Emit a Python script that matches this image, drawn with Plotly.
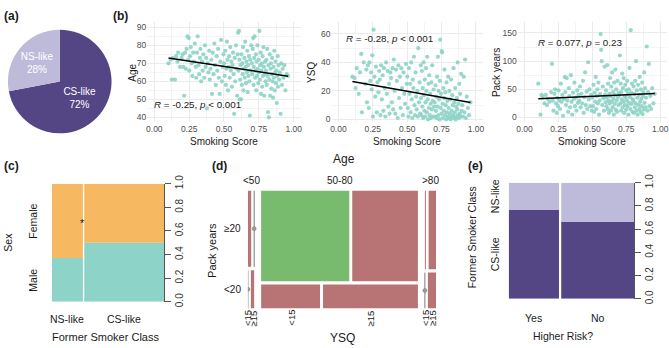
import plotly.graph_objects as go

W, H = 669, 348
FONT = "Liberation Sans, Arial, sans-serif"


def fx(px):
    return px / W


def fy(py):
    return 1 - py / H


# ---------------- DATA ----------------
# (a) pie
pie_labels = ["CS-like", "NS-like"]
pie_counts = [180, 70]

# (b) scatter: smoking score vs age / YSQ / pack years
smoking_score = [
    0.102, 0.118, 0.125, 0.133, 0.148, 0.157, 0.166, 0.171, 0.184, 0.196,
    0.203, 0.208, 0.214, 0.221, 0.226, 0.232, 0.238, 0.242, 0.247, 0.251, 0.256, 0.262, 0.268, 0.273, 0.279, 0.284, 0.291, 0.297,
    0.301, 0.306, 0.311, 0.316, 0.322, 0.327, 0.331, 0.336, 0.342, 0.347, 0.352, 0.358, 0.363, 0.368, 0.372, 0.378, 0.383, 0.389, 0.394, 0.398,
    0.403, 0.409, 0.414, 0.419, 0.425, 0.431, 0.436, 0.441, 0.447, 0.452, 0.458, 0.463, 0.469, 0.474, 0.479, 0.485, 0.491, 0.496,
    0.501, 0.505, 0.509, 0.513, 0.517, 0.521, 0.525, 0.529, 0.533, 0.537, 0.541, 0.545, 0.549, 0.553, 0.557, 0.561, 0.565, 0.569, 0.573, 0.577, 0.581, 0.586, 0.590, 0.594, 0.598,
    0.601, 0.604, 0.607, 0.610, 0.613, 0.616, 0.619, 0.622, 0.625, 0.628, 0.631, 0.634, 0.637, 0.640, 0.643, 0.646, 0.649, 0.652, 0.655, 0.658, 0.661, 0.664, 0.667, 0.670, 0.673, 0.676, 0.679, 0.682, 0.685, 0.688, 0.692, 0.696,
    0.700, 0.703, 0.706, 0.709, 0.712, 0.714, 0.717, 0.720, 0.723, 0.726, 0.729, 0.731, 0.734, 0.737, 0.740, 0.743, 0.746, 0.749, 0.751, 0.754, 0.757, 0.760, 0.763, 0.766, 0.769, 0.771, 0.774, 0.777, 0.780, 0.783, 0.786, 0.789, 0.792, 0.795, 0.798,
    0.801, 0.804, 0.807, 0.810, 0.813, 0.816, 0.819, 0.822, 0.825, 0.828, 0.831, 0.834, 0.837, 0.840, 0.843, 0.846, 0.849, 0.852, 0.855, 0.858, 0.861, 0.864, 0.867, 0.870, 0.873, 0.876, 0.879, 0.882, 0.885, 0.888, 0.892, 0.896,
    0.901, 0.906, 0.911, 0.916, 0.921, 0.927, 0.933, 0.941, 0.950, 0.960,
]
age = [
    70, 72, 61, 73, 61, 74, 71, 76, 68, 73,
    75, 68, 52, 76, 67, 78, 85, 72, 84, 66, 74, 79, 70, 63, 76, 71, 81, 68,
    62, 76, 85, 69, 64, 73, 78, 60, 71, 66, 75, 62, 80, 68, 73, 45, 70, 65, 77, 61,
    67, 72, 53, 76, 64, 81, 69, 58, 74, 66, 78, 62, 53, 71, 83, 60, 68, 75,
    70, 63, 77, 58, 67, 82, 72, 55, 68, 74, 62, 79, 66, 71, 57, 69, 76, 64, 42, 73, 60, 80, 67, 52, 75,
    87, 66, 88, 72, 50, 61, 69, 50, 75, 58, 70, 64, 79, 55, 67, 73, 62, 82, 68, 59, 71, 65, 77, 54, 69, 63, 74, 60, 41, 72, 66, 80,
    70, 64, 78, 84, 58, 68, 73, 85, 62, 66, 75, 55, 71, 63, 80, 67, 59, 72, 65, 88, 61, 69, 76, 53, 66, 70, 57, 74, 63, 79, 68, 52, 64, 71, 60,
    66, 72, 58, 78, 63, 43, 69, 40, 61, 75, 52, 67, 70, 56, 64, 73, 60, 51, 68, 62, 77, 55, 65, 71, 59, 66, 48, 63, 74, 57, 69, 61,
    65, 42, 70, 58, 67, 62, 69, 55, 64, 63,
]
ysq = [
    30, 29, 22, 36, 18, 33, 46, 5, 40, 25,
    35, 12, 38, 8, 40, 27, 33, 21, 45, 2, 63, 30, 16, 37, 5, 26, 19, 34,
    28, 3, 38, 14, 31, 6, 36, 22, 2, 40, 18, 34, 9, 25, 4, 33, 29, 12, 36, 7,
    42, 20, 4, 35, 27, 1, 38, 15, 30, 8, 36, 22, 3, 33, 18, 11, 39, 25,
    30, 8, 2, 36, 18, 25, 5, 40, 14, 1, 28, 22, 44, 10, 3, 33, 16, 7, 20, 2, 50, 12, 26, 4, 38,
    15, 3, 34, 9, 22, 1, 40, 17, 6, 28, 2, 12, 36, 20, 5, 44, 14, 0, 25, 8, 31, 3, 18, 11, 1, 26, 7, 38, 13, 2, 21, 9,
    12, 2, 24, 6, 16, 1, 30, 9, 44, 3, 20, 14, 0, 27, 56, 8, 18, 4, 48, 47, 11, 1, 22, 6, 15, 35, 3, 19, 10, 0, 26, 5, 13, 2, 30,
    8, 1, 20, 4, 14, 0, 28, 6, 2, 17, 10, 3, 36, 1, 12, 5, 22, 0, 9, 2, 15, 7, 40, 3, 11, 1, 25, 4, 18, 2, 32, 6,
    10, 2, 30, 5, 42, 1, 16, 8, 3, 12,
]
pack_years = [
    60, 5, 40, 38, 25, 40, 22, 33, 28, 45,
    95, 30, 12, 42, 50, 25, 8, 35, 20, 48, 30, 15, 60, 28, 40, 3, 33, 72,
    45, 22, 70, 30, 10, 52, 38, 18, 75, 28, 5, 44, 33, 62, 20, 35, 12, 48, 26, 40,
    30, 55, 18, 42, 25, 65, 8, 36, 80, 22, 46, 15, 98, 32, 50, 20, 40, 12,
    35, 20, 58, 10, 44, 28, 72, 15, 38, 50, 25, 62, 5, 30, 42, 148, 120, 100, 22, 55, 34, 12, 90, 40, 27,
    48, 20, 35, 93, 15, 60, 30, 8, 42, 25, 70, 38, 12, 55, 28, 80, 18, 45, 33, 5, 62, 24, 40, 85, 14, 50, 30, 10, 65, 36, 22, 44,
    40, 110, 25, 60, 12, 45, 32, 78, 18, 52, 28, 70, 8, 38, 22, 58, 35, 14, 48, 30, 65, 20, 42, 5, 50, 26, 88, 36, 15, 155, 44, 24, 60, 10, 32,
    30, 55, 8, 42, 18, 65, 25, 100, 12, 48, 35, 5, 58, 22, 40, 15, 72, 28, 10, 50, 33, 20, 62, 6, 38, 45, 14, 80, 26, 52, 18, 35,
    126, 12, 45, 95, 20, 38, 15, 52, 25, 42,
]
# linear fits (intercept, slope) and correlation labels
age_fit = [74.2, -11.8]
ysq_fit = [28.4, -17.2]
pack_fit = [32.1, 10.9]
cor_labels = [
    "<i>R</i> = -0.25, <i>p</i> &lt; 0.001",
    "<i>R</i> = -0.28, <i>p</i> &lt; 0.001",
    "<i>R</i> = 0.077, <i>p</i> = 0.23",
]

# (c) spineplot: former smoker class x sex
c_classes = ["NS-like", "CS-like"]
c_male = [26, 90]
c_female = [44, 90]

# (d) mosaic: age x pack years x YSQ   counts[age][pack][ysq]
d_age = ["<50", "50-80", ">80"]
d_pack = ["≥20", "<20"]
d_ysq = ["<15", "≥15"]
d_counts = [
    [[6, 0], [0, 3]],
    [[102, 76], [18, 29]],
    [[1, 10], [0, 5]],
]
d_highlight = (1, 0, 0)

# (e) spineplot: higher risk x former smoker class
e_groups = ["Yes", "No"]
e_cs = [78, 98]
e_ns = [24, 50]

# ---------------- STYLE ----------------
DARK = "#544585"
LIGHT = "#bebada"
TEAL = "#8dd3c7"
ORANGE = "#f6b961"
GREEN = "#78bb6e"
RED = "#b87474"
GRID = "#ebebeb"
GRID_MINOR = "#f4f4f4"

fig = go.Figure()
annotations = []


def ann(text, px, py, size=10, angle=0, xanchor="center", color="#1a1a1a", bold=False):
    if bold:
        text = "<b>" + text + "</b>"
    annotations.append(dict(text=text, x=fx(px), y=fy(py), xref="paper", yref="paper",
                            showarrow=False, textangle=angle, xanchor=xanchor, yanchor="middle",
                            font=dict(size=size, color=color, family=FONT)))


# ---------------- (a) pie ----------------
pie_color_map = {"CS-like": DARK, "NS-like": LIGHT}
fig.add_trace(go.Pie(
    labels=pie_labels, values=pie_counts, sort=False, direction="clockwise", rotation=0,
    marker=dict(colors=[pie_color_map[l] for l in pie_labels], line=dict(width=0)),
    texttemplate="%{label}<br>%{percent:.0%}", textposition="inside", insidetextorientation="horizontal",
    textfont=dict(color="white", size=10, family=FONT),
    domain=dict(x=[fx(5), fx(113)], y=[fy(129.5), fy(21.5)]),
    showlegend=False, hoverinfo="skip"))

# ---------------- (b) scatter ----------------
sc_specs = [
    dict(y=age, fit=age_fit, lab=cor_labels[0], px=(147, 301), yr=[37.3, 92.7], dt=10,
         title="Age", tx=132, lx=-0.015, ly=47.4),
    dict(y=ysq, fit=ysq_fit, lab=cor_labels[1], px=(332, 484), yr=[-2.0, 68.1], dt=20,
         title="YSQ", tx=312, lx=0.043, ly=56.6),
    dict(y=pack_years, fit=pack_fit, lab=cor_labels[2], px=(519, 669), yr=[-8.5, 168.7], dt=50,
         title="Pack years", tx=498, lx=0.088, ly=133),
]
layout_axes = {}
for i, s in enumerate(sc_specs, start=1):
    xa = "x" if i == 1 else f"x{i}"
    ya = "y" if i == 1 else f"y{i}"
    fig.add_trace(go.Scatter(x=smoking_score, y=s["y"], mode="markers", xaxis=xa, yaxis=ya,
                             marker=dict(color=TEAL, size=4.2, opacity=0.9, line=dict(width=0)),
                             showlegend=False, hoverinfo="skip"))
    x_lo, x_hi = min(smoking_score), max(smoking_score)
    a, b = s["fit"]
    fig.add_trace(go.Scatter(x=[x_lo, x_hi], y=[a + b * x_lo, a + b * x_hi], mode="lines",
                             xaxis=xa, yaxis=ya, line=dict(color="black", width=1.5),
                             showlegend=False, hoverinfo="skip"))
    suffix = "" if i == 1 else str(i)
    layout_axes["xaxis" + suffix] = dict(
        domain=[fx(s["px"][0]), fx(s["px"][1])], anchor=ya, range=[-0.05, 1.05],
        tick0=0, dtick=0.25, tickformat=".2f", showgrid=True, gridcolor=GRID, gridwidth=1,
        minor=dict(tick0=0, dtick=0.125, showgrid=True, gridcolor=GRID_MINOR, gridwidth=0.6),
        zeroline=False, showline=False, ticks="",
        tickfont=dict(size=8.5, color="#4d4d4d", family=FONT), fixedrange=True)
    layout_axes["yaxis" + suffix] = dict(
        domain=[fy(118), fy(14)], anchor=xa, range=s["yr"],
        tick0=0, dtick=s["dt"], showgrid=True, gridcolor=GRID, gridwidth=1,
        minor=dict(tick0=0, dtick=s["dt"] / 2, showgrid=True, gridcolor=GRID_MINOR, gridwidth=0.6),
        zeroline=False, showline=False, ticks="",
        tickfont=dict(size=8.5, color="#4d4d4d", family=FONT), fixedrange=True)
    annotations.append(dict(text=s["lab"], x=s["lx"], y=s["ly"], xref=xa, yref=ya, showarrow=False,
                            xanchor="left", yanchor="middle",
                            font=dict(size=9.8, color="#1a1a1a", family=FONT)))
    ann("Smoking Score", (s["px"][0] + s["px"][1]) / 2, 138, size=10)
    ann(s["title"], s["tx"], 66, size=10, angle=-90)

ann("Age", 345, 156, size=12)

# ---------------- spine helper ----------------


def spine(totals, gap):
    n = sum(totals)
    avail = 1 - gap * (len(totals) - 1)
    out, x0 = [], 0.0
    for t in totals:
        w = avail * t / n
        out.append((x0, w))
        x0 += w + gap
    return out


def right_axis():
    return dict(range=[0, 1], side="right", tickvals=[0, 0.2, 0.4, 0.6, 0.8, 1.0],
                ticktext=["0.0", "0.2", "0.4", "0.6", "0.8", "1.0"], tickangle=-90,
                ticks="outside", ticklen=6, tickcolor="#555", showline=True, linecolor="#555",
                linewidth=1, showgrid=False, zeroline=False,
                tickfont=dict(size=10, color="#333", family=FONT), fixedrange=True)


# ---------------- (c) spineplot ----------------
c_tot = [m + f for m, f in zip(c_male, c_female)]
c_cols = spine(c_tot, 0.012)
c_mfrac = [m / t for m, t in zip(c_male, c_tot)]
c_cx = [x0 + w / 2 for x0, w in c_cols]
c_w = [w for _, w in c_cols]
fig.add_trace(go.Bar(x=c_cx, y=c_mfrac, base=[0] * len(c_cx), width=c_w, xaxis="x4", yaxis="y4",
                     marker=dict(color=TEAL, line=dict(width=0)), showlegend=False, hoverinfo="skip"))
fig.add_trace(go.Bar(x=c_cx, y=[1 - f for f in c_mfrac], base=c_mfrac, width=c_w, xaxis="x4", yaxis="y4",
                     marker=dict(color=ORANGE, line=dict(width=0)), showlegend=False, hoverinfo="skip"))
C_X0, C_X1, C_Y0, C_Y1 = 51, 164, 182, 305
layout_axes["xaxis4"] = dict(domain=[fx(C_X0), fx(C_X1)], anchor="y4", range=[0, 1], visible=False, fixedrange=True)
ya4 = right_axis()
ya4.update(domain=[fy(C_Y1), fy(C_Y0)], anchor="x4")
layout_axes["yaxis4"] = ya4
annotations.append(dict(text="*", x=c_cols[0][0] + c_cols[0][1], y=0.67, xref="x4", yref="y4", showarrow=False,
                        font=dict(size=11, color="#1a1a1a", family=FONT)))
ch = C_Y1 - C_Y0
ann("Female", 32, C_Y1 - ch * (c_mfrac[0] + 1) / 2, size=10.5, angle=-90)
ann("Male", 32, C_Y1 - ch * c_mfrac[0] / 2, size=10.5, angle=-90)
ann("Sex", 7.5, 243, size=10.5, angle=-90)
for name, cx in zip(c_classes, c_cx):
    ann(name, C_X0 + cx * (C_X1 - C_X0), 323, size=10.5)
ann("Former Smoker Class", 105, 342, size=11)

# ---------------- (d) mosaic ----------------
D_X0, D_X1, D_Y0, D_Y1 = 248, 437, 189, 312
DW, DH = D_X1 - D_X0, D_Y1 - D_Y0
g1, g2, g3 = 7.0, 3.5, 3.0
col_tot = [sum(sum(r) for r in a) for a in d_counts]
N = sum(col_tot)
availw = DW - g1 * (len(col_tot) - 1)
green = dict(x=[], y=[], w=[], b=[])
red = dict(x=[], y=[], w=[], b=[])
zx, zy, dx, dy = [], [], [], []
col_info = []
x0 = 0.0
for i, a in enumerate(d_counts):
    cw = availw * col_tot[i] / N
    row_tot = [sum(r) for r in a]
    availh = DH - g2 * (len(a) - 1)
    ytop = DH
    rows = []
    for j, r in enumerate(a):
        rh = availh * row_tot[j] / col_tot[i]
        yb = ytop - rh
        aw = cw - g3 * (len(r) - 1)
        xx = x0
        subs = []
        for k, c in enumerate(r):
            sw = aw * c / row_tot[j]
            if c == 0:
                zx += [xx, xx, None]
                zy += [yb, ytop, None]
                dx.append(xx)
                dy.append((yb + ytop) / 2)
            else:
                tgt = green if (i, j, k) == d_highlight else red
                tgt["x"].append(xx + sw / 2)
                tgt["w"].append(sw)
                tgt["b"].append(yb)
                tgt["y"].append(rh)
            subs.append(xx + sw / 2)
            xx += sw + g3
        rows.append((yb, ytop, subs))
        ytop = yb - g2
    col_info.append((x0, cw, rows))
    x0 += cw + g1

for grp, colr in ((red, RED), (green, GREEN)):
    fig.add_trace(go.Bar(x=grp["x"], y=grp["y"], base=grp["b"], width=grp["w"], xaxis="x5", yaxis="y5",
                         marker=dict(color=colr, line=dict(width=0)), showlegend=False, hoverinfo="skip"))
fig.add_trace(go.Scatter(x=zx, y=zy, mode="lines", xaxis="x5", yaxis="y5",
                         line=dict(color="#7a7a7a", width=1), showlegend=False, hoverinfo="skip"))
fig.add_trace(go.Scatter(x=dx, y=dy, mode="markers", xaxis="x5", yaxis="y5",
                         marker=dict(color="#9a9a9a", size=4, line=dict(color="#7a7a7a", width=0.5)),
                         showlegend=False, hoverinfo="skip"))
layout_axes["xaxis5"] = dict(domain=[fx(D_X0), fx(D_X1)], anchor="y5", range=[0, DW], visible=False, fixedrange=True)
layout_axes["yaxis5"] = dict(domain=[fy(D_Y1), fy(D_Y0)], anchor="x5", range=[0, DH], visible=False, fixedrange=True)

for name, (cx0, cw, rows) in zip(d_age, col_info):
    ann(name, D_X0 + cx0 + cw / 2, 179, size=10)
    subs = list(rows[-1][2])
    if subs[1] - subs[0] < 6.5:
        mid = (subs[0] + subs[1]) / 2
        subs = [mid - 3.25, mid + 3.25]
    for lab, sx in zip(d_ysq, subs):
        ann(lab, D_X0 + sx, 322, size=9.5, angle=-90)
first_rows = col_info[0][2]
for lab, (yb, yt, _) in zip(d_pack, first_rows):
    ann(lab, 243, D_Y1 - (yb + yt) / 2, size=10, xanchor="right")
ann("Pack years", 212, 252, size=11, angle=-90)
ann("YSQ", 343, 343, size=12)

# ---------------- (e) spineplot ----------------
e_tot = [c + n for c, n in zip(e_cs, e_ns)]
e_cols = spine(e_tot, 0.018)
e_cfrac = [c / t for c, t in zip(e_cs, e_tot)]
e_cx = [x0 + w / 2 for x0, w in e_cols]
e_w = [w for _, w in e_cols]
fig.add_trace(go.Bar(x=e_cx, y=e_cfrac, base=[0] * len(e_cx), width=e_w, xaxis="x6", yaxis="y6",
                     marker=dict(color=DARK, line=dict(width=0)), showlegend=False, hoverinfo="skip"))
fig.add_trace(go.Bar(x=e_cx, y=[1 - f for f in e_cfrac], base=e_cfrac, width=e_w, xaxis="x6", yaxis="y6",
                     marker=dict(color=LIGHT, line=dict(width=0)), showlegend=False, hoverinfo="skip"))
E_X0, E_X1, E_Y0, E_Y1 = 510, 636, 181, 302
layout_axes["xaxis6"] = dict(domain=[fx(E_X0), fx(E_X1)], anchor="y6", range=[0, 1], visible=False, fixedrange=True)
ya6 = right_axis()
ya6.update(domain=[fy(E_Y1), fy(E_Y0)], anchor="x6")
layout_axes["yaxis6"] = ya6
eh = E_Y1 - E_Y0
ann("NS-like", 497, E_Y1 - eh * (e_cfrac[0] + 1) / 2, size=10.5, angle=-90)
ann("CS-like", 497, E_Y1 - eh * e_cfrac[0] / 2, size=10.5, angle=-90)
ann("Former Smoker Class", 474, 238, size=10.5, angle=-90)
for name, cx in zip(e_groups, e_cx):
    ann(name, E_X0 + cx * (E_X1 - E_X0), 322, size=10.5)
ann("Higher Risk?", 565, 341, size=10.5)

# panel letters
ann("(a)", 1, 7, size=12, xanchor="left", bold=True)
ann("(b)", 110, 7, size=12, xanchor="left", bold=True)
ann("(c)", 1, 164, size=12, xanchor="left", bold=True)
ann("(d)", 210, 164, size=12, xanchor="left", bold=True)
ann("(e)", 467, 164, size=12, xanchor="left", bold=True)

fig.update_layout(
    width=W, height=H, margin=dict(l=0, r=0, t=0, b=0),
    paper_bgcolor="white", plot_bgcolor="white", showlegend=False,
    barmode="overlay", font=dict(family=FONT),
    annotations=annotations, **layout_axes)

fig.write_html("out.html")
